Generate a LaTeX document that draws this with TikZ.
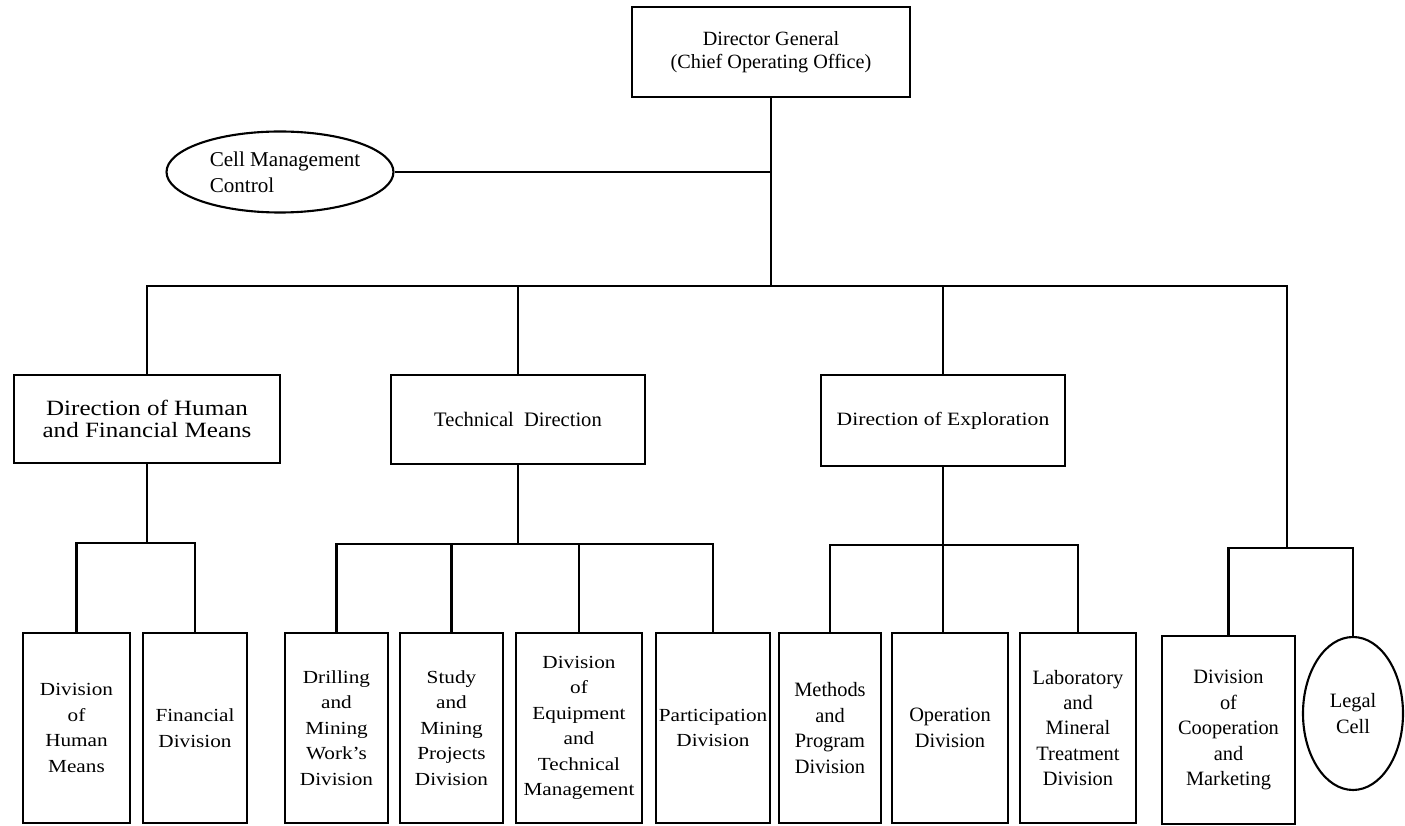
\documentclass[tikz,border=0pt]{standalone}
\usepackage{fontspec}
\setmainfont{Liberation Serif}
\newfontfamily\widefont[FakeStretch=1.15]{Liberation Serif}
\usetikzlibrary{shapes.geometric}

\begin{document}
\begin{tikzpicture}[line width=1.2pt]
	\tikzstyle{box} = [rectangle, draw, inner sep=0pt, align=center]
	\tikzstyle{leaf} = [box, minimum height=3.8cm, font=\widefont\fontsize{10.5}{14.5}\selectfont]
	\tikzstyle{leafr} = [box, minimum height=3.8cm, font=\fontsize{11.6}{14.5}\selectfont]
	\tikzstyle{oval} = [ellipse, draw, inner sep=0pt]
	\useasboundingbox (0,0) rectangle (28.1,-16.52);
	% levels of the bars
	\coordinate (mbar) at (0,-5.72);
	\coordinate (hbar) at (0,-10.86);
	\coordinate (tbar) at (0,-10.88);
	\coordinate (ebar) at (0,-10.9);
	\coordinate (rjoin) at (25.74,-10.96);
	% top
	\node[box, minimum width=5.56cm, minimum height=1.8cm, font=\fontsize{11.5}{13}\selectfont] (dg) at (15.42,-1.04) {Director General\\(Chief Operating Office)};
	\node[oval, align=left, minimum width=4.52cm, minimum height=1.62cm, font=\fontsize{12}{14.7}\selectfont] (cell) at (5.6,-3.44) {\hspace*{0.2cm}Cell Management\\\hspace*{0.2cm}Control};
	% directions
	\node[box, minimum width=5.32cm, minimum height=1.76cm, font=\widefont\fontsize{12.4}{13}\selectfont] (hum) at (2.94,-8.38) {Direction of Human\\and Financial Means};
	\node[box, minimum width=5.08cm, minimum height=1.78cm, font=\fontsize{11.7}{13}\selectfont] (tech) at (10.36,-8.39) {Technical\ \ Direction};
	\node[box, minimum width=4.88cm, minimum height=1.82cm, font=\widefont\fontsize{10.7}{13}\selectfont] (expl) at (18.86,-8.41) {Direction of Exploration};
	% divisions
	\node[leaf, minimum width=2.14cm] (hmean) at (1.53,-14.56) {Division\\of\\Human\\Means};
	\node[leaf, minimum width=2.08cm] (fin) at (3.9,-14.56) {Financial\\Division};
	\node[leaf, minimum width=2.06cm] (drill) at (6.73,-14.56) {Drilling\\and\\Mining\\Work’s\\Division};
	\node[leaf, minimum width=2.06cm] (study) at (9.03,-14.56) {Study\\and\\Mining\\Projects\\Division};
	\node[leaf, minimum width=2.52cm] (equip) at (11.58,-14.56) {Division\\of\\Equipment\\and\\Technical\\Management};
	\node[leaf, minimum width=2.28cm] (part) at (14.26,-14.56) {Participation\\Division};
	\node[leafr, minimum width=2.04cm] (meth) at (16.6,-14.56) {Methods\\and\\Program\\Division};
	\node[leafr, minimum width=2.32cm] (oper) at (19.0,-14.56) {Operation\\Division};
	\node[leafr, minimum width=2.32cm] (lab) at (21.56,-14.56) {Laboratory\\and\\Mineral\\Treatment\\Division};
	\node[leafr, minimum width=2.66cm, minimum height=3.76cm] (coop) at (24.57,-14.6) {Division\\of\\Cooperation\\and\\Marketing};
	\node[oval, align=center, minimum width=2cm, minimum height=3.06cm, font=\fontsize{11.6}{14.5}\selectfont] (legal) at (27.06,-14.27) {Legal\\Cell};
	% top lines
	\draw (dg.south) -- (dg.south |- mbar);
	\draw (cell.east) -- (cell.east -| dg.south);
	\draw (hum.north) |- (rjoin |- mbar) -- (rjoin);
	\draw (tech.north) -- (tech.north |- mbar);
	\draw (expl.north) -- (expl.north |- mbar);
	% human and financial means
	\draw (hum.south) -- (hum.south |- hbar);
	\draw (hmean.north) |- (fin.north |- hbar) -- (fin.north);
	% technical
	\draw (tech.south) -- (tech.south |- tbar);
	\draw (drill.north) |- (part.north |- tbar) -- (part.north);
	\foreach \n in {study,equip}
		\draw (\n.north) -- (\n.north |- tbar);
	% exploration
	\draw (expl.south) -- (expl.south |- oper.north);
	\draw (meth.north) |- (lab.north |- ebar) -- (lab.north);
	% cooperation and legal
	\draw (coop.north) |- (legal.north |- rjoin) -- (legal.north);
\end{tikzpicture}
\end{document}
